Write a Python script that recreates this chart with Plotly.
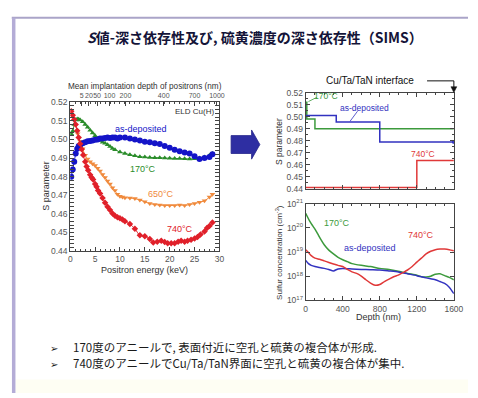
import plotly.graph_objects as go

W, H = 478, 398

# ---------------- data: left chart (S parameter vs positron energy) ----------------
asdep_E = [0.2, 0.5, 0.8, 1.1, 1.4, 1.7, 2.0, 2.5, 3.0, 3.5, 4.0, 4.5, 5.0, 5.5, 6.0, 6.5, 7.0, 7.5, 8.0, 8.5,
           9.0, 9.5, 10.0, 11.0, 12.0, 13.0, 14.0, 15.0, 16.0, 17.0, 18.0, 19.0, 20.0, 21.0, 22.0, 23.0, 24.0,
           25.0, 26.0, 27.0, 28.0, 28.6]
asdep_S = [0.4800, 0.4838, 0.4880, 0.4924, 0.4950, 0.4965, 0.4970, 0.4980, 0.4985, 0.4990, 0.4992, 0.4995,
           0.4998, 0.5000, 0.5005, 0.5005, 0.5008, 0.5010, 0.5008, 0.5010, 0.5010, 0.5005, 0.5010, 0.5010,
           0.5005, 0.5000, 0.4995, 0.4988, 0.4985, 0.4980, 0.4975, 0.4965, 0.4955, 0.4945, 0.4937, 0.4930,
           0.4925, 0.4910, 0.4895, 0.4900, 0.4905, 0.4920]

a170_E = [0.2, 0.5, 0.8, 1.1, 1.4, 1.7, 2.0, 2.5, 3.0, 3.5, 4.0, 4.5, 5.0, 5.5, 6.0, 6.5, 7.0, 7.5, 8.0, 8.5,
          9.0, 10.0, 11.0, 12.0, 13.0, 14.0, 15.0, 16.0, 17.0, 18.0, 19.0, 20.0, 21.0, 22.0, 23.0, 24.0, 25.0,
          26.0, 27.0, 28.0, 28.6]
a170_S = [0.5030, 0.5045, 0.5080, 0.5105, 0.5110, 0.5108, 0.5105, 0.5095, 0.5080, 0.5065, 0.5050, 0.5035,
          0.5020, 0.5005, 0.4995, 0.4985, 0.4980, 0.4972, 0.4962, 0.4952, 0.4945, 0.4932, 0.4925, 0.4918,
          0.4912, 0.4907, 0.4905, 0.4903, 0.4902, 0.4902, 0.4900, 0.4899, 0.4898, 0.4897, 0.4896, 0.4895,
          0.4896, 0.4900, 0.4905, 0.4915, 0.4924]

a650_E = [1.5, 2.0, 2.5, 3.0, 3.5, 4.0, 4.5, 5.0, 5.5, 6.0, 6.5, 7.0, 7.5, 8.0, 8.5, 9.0, 9.5, 10.0, 10.5, 11.0,
          12.0, 13.0, 14.0, 15.0, 16.0, 17.0, 18.0, 19.0, 20.0, 21.0, 22.0, 23.0, 24.0, 25.0, 26.0, 27.0,
          28.0, 28.6]
a650_S = [0.5030, 0.4990, 0.4950, 0.4915, 0.4895, 0.4880, 0.4870, 0.4860, 0.4845, 0.4830, 0.4812, 0.4795,
          0.4776, 0.4760, 0.4740, 0.4725, 0.4705, 0.4695, 0.4690, 0.4687, 0.4685, 0.4682, 0.4675, 0.4665,
          0.4655, 0.4650, 0.4647, 0.4645, 0.4645, 0.4645, 0.4648, 0.4645, 0.4650, 0.4655, 0.4662, 0.4670,
          0.4690, 0.4705]

a740_E = [0.2, 0.5, 0.8, 1.1, 1.4, 1.7, 2.0, 2.3, 2.6, 3.0, 3.3, 3.6, 4.0, 4.3, 4.6, 5.0, 5.3, 5.6, 6.0, 6.5,
          7.0, 7.5, 8.0, 8.5, 9.0, 9.5, 10.0, 10.5, 11.0, 12.0, 13.0, 14.0, 15.0, 16.0, 16.7, 17.5, 18.3,
          19.0, 19.6, 20.3, 21.0, 21.7, 22.3, 23.0, 23.6, 24.3, 25.0, 25.6, 26.2, 27.0, 27.5, 28.0, 28.6]
a740_S = [0.5151, 0.5130, 0.5107, 0.5080, 0.5047, 0.5010, 0.4977, 0.4947, 0.4916, 0.4880, 0.4855, 0.4835,
          0.4810, 0.4795, 0.4785, 0.4760, 0.4745, 0.4725, 0.4710, 0.4685, 0.4660, 0.4638, 0.4620, 0.4602,
          0.4590, 0.4582, 0.4576, 0.4570, 0.4560, 0.4545, 0.4520, 0.4485, 0.4480, 0.4465, 0.4446, 0.4450,
          0.4455, 0.4448, 0.4442, 0.4442, 0.4442, 0.4450, 0.4455, 0.4450, 0.4455, 0.4460, 0.4467, 0.4475,
          0.4489, 0.4505, 0.4524, 0.4535, 0.4553]

# top axis: mean implantation depth labels (nm) and the positron energy (keV) where each label sits
depth_tick_labels = ["5", "20", "50", "100", "200", "400", "700", "1000"]
depth_tick_energy = [2.3, 3.75, 5.4, 7.9, 11.1, 18.8, 25.0, 29.5]

# ---------------- data: right top (S parameter step profiles vs depth) ----------------
step_asdep_D = [0, 330, 800, 1600]
step_asdep_S = [0.5010, 0.4955, 0.4790, 0.4790]
step_170_D = [0, 12, 100, 1600]
step_170_S = [0.5120, 0.4980, 0.4900, 0.4900]
step_740_D = [0, 1200, 1600]
step_740_S = [0.4410, 0.4635, 0.4635]

# ---------------- data: right bottom (SIMS sulfur concentration vs depth) ----------------
sims_170_D = [0, 20, 40, 60, 80, 100, 130, 160, 200, 250, 300, 350, 400, 450, 500, 600, 700, 800, 900, 1000,
              1100, 1200, 1250, 1300, 1350, 1400, 1450, 1500, 1550, 1600]
sims_170_C = [4.0e20, 2.8e20, 2.0e20, 1.5e20, 1.15e20, 8.9e19, 5.6e19, 3.5e19, 2.0e19, 1.2e19, 8.3e18,
              6.0e18, 4.8e18, 4.0e18, 3.3e18, 2.8e18, 2.5e18, 2.1e18, 1.9e18, 1.6e18, 1.3e18, 1.1e18,
              9.5e17, 9.3e17, 1.0e18, 1.2e18, 1.25e18, 1.05e18, 8.9e17, 7.1e17]
sims_asdep_D = [0, 30, 60, 100, 150, 200, 250, 300, 350, 400, 500, 600, 700, 800, 900, 1000, 1100, 1200,
                1300, 1400, 1450, 1500, 1550, 1600]
sims_asdep_C = [4.5e18, 3.3e18, 2.8e18, 2.5e18, 2.3e18, 2.1e18, 1.9e18, 1.65e18, 2.0e18, 2.1e18, 2.0e18,
                1.9e18, 1.85e18, 1.8e18, 1.65e18, 1.5e18, 1.25e18, 1.05e18, 8.5e17, 7.1e17, 6.0e17,
                5.0e17, 3.5e17, 1.9e17]
sims_740_D = [0, 30, 60, 100, 150, 200, 250, 300, 350, 400, 450, 500, 550, 600, 650, 700, 750, 800, 850,
              900, 950, 1000, 1050, 1100, 1150, 1200, 1250, 1300, 1350, 1400, 1450, 1500, 1550, 1600]
sims_740_C = [1.25e19, 9.5e18, 7.1e18, 5.6e18, 5.0e18, 4.3e18, 3.7e18, 3.2e18, 2.8e18, 2.5e18, 1.9e18,
              1.5e18, 1.3e18, 1.0e18, 7.1e17, 5.2e17, 4.2e17, 4.5e17, 6.0e17, 7.6e17, 9.5e17, 1.1e18,
              1.4e18, 1.8e18, 2.5e18, 3.8e18, 5.6e18, 8.3e18, 1.07e19, 1.25e19, 1.32e19, 1.32e19,
              1.25e19, 1.12e19]
sims_tickvals = [1e17, 1e18, 1e19, 1e20, 1e21]
sims_ticktext = ["10<sup>17</sup>", "10<sup>18</sup>", "10<sup>19</sup>", "10<sup>20</sup>", "10<sup>21</sup>"]

bullet_lines = ["170度のアニールで, 表面付近に空孔と硫黄の複合体が形成.",
                "740度のアニールでCu/Ta/TaN界面に空孔と硫黄の複合体が集中."]

# ---------------- styling ----------------
BLUE, GREEN, ORANGE, RED = "#1414c8", "#2a8c2a", "#f08a3c", "#e0202a"
RBLUE, RGREEN, RRED = "#3232c0", "#3c9a3c", "#e03838"
FONT = "Liberation Sans, Arial, sans-serif"
JFONT = "Noto Sans CJK JP, DejaVu Sans, sans-serif"
TICKC = "#555555"
AXC = "#444444"


def px(x):
    return x / W


def py(y):
    return 1 - y / H


fig = go.Figure()


def sdata(x, y, color, symbol, size, name):
    fig.add_trace(go.Scatter(x=x, y=y, mode="lines+markers", name=name,
                             line=dict(color=color, width=1, shape="spline", smoothing=1.0),
                             marker=dict(color=color, symbol=symbol, size=size, line=dict(width=0)),
                             xaxis="x", yaxis="y", showlegend=False))


sdata(a650_E, a650_S, ORANGE, "triangle-down", 5, "650°C")
sdata(a170_E, a170_S, GREEN, "triangle-up", 5, "170°C")
sdata(asdep_E, asdep_S, BLUE, "circle", 6, "as-deposited")
sdata(a740_E, a740_S, RED, "diamond", 5, "740°C")

# register the top (depth) axis; no visible marks
fig.add_trace(go.Scatter(x=depth_tick_energy, y=[None] * len(depth_tick_energy), mode="markers",
                         xaxis="x2", yaxis="y", showlegend=False, hoverinfo="skip"))

for D, S, c in [(step_170_D, step_170_S, RGREEN), (step_asdep_D, step_asdep_S, RBLUE),
                (step_740_D, step_740_S, RRED)]:
    fig.add_trace(go.Scatter(x=D, y=S, mode="lines", line=dict(color=c, width=1.5, shape="hv"),
                             xaxis="x3", yaxis="y3", showlegend=False))
# end marker of the as-deposited profile
fig.add_trace(go.Scatter(x=step_asdep_D[-1:], y=step_asdep_S[-1:], mode="markers",
                         marker=dict(color=RBLUE, size=4), xaxis="x3", yaxis="y3", showlegend=False))

for D, C, c in [(sims_170_D, sims_170_C, RGREEN), (sims_asdep_D, sims_asdep_C, RBLUE),
                (sims_740_D, sims_740_C, RRED)]:
    fig.add_trace(go.Scatter(x=D, y=C, mode="lines", line=dict(color=c, width=1.5, shape="spline", smoothing=0.6),
                             xaxis="x4", yaxis="y4", showlegend=False))

tickfont = dict(family=FONT, size=8.5, color=TICKC)
common = dict(showline=True, linecolor=AXC, linewidth=1, ticks="inside", ticklen=4, tickcolor=AXC,
              showgrid=False, zeroline=False, tickfont=tickfont, tickangle=0)

Lx = [px(70), px(223)]
Ly = [py(252), py(99)]
Rx = [px(311.5), px(463.5)]
RTy = [py(188), py(89)]
RBy = [py(302.7), py(203.3)]

top_common = dict(common)
top_common["tickfont"] = dict(family=FONT, size=7, color=TICKC)

fig.update_layout(
    width=W, height=H, margin=dict(l=0, r=0, t=0, b=0),
    paper_bgcolor="white", plot_bgcolor="rgba(0,0,0,0)",
    xaxis=dict(domain=Lx, anchor="y", range=[0, 30], dtick=5, mirror=False,
               minor=dict(ticks="inside", ticklen=2, dtick=1, tickcolor=AXC), **common),
    xaxis2=dict(overlaying="x", anchor="y", side="top", range=[0, 30], tickmode="array",
                tickvals=depth_tick_energy, ticktext=depth_tick_labels,
                minor=dict(ticks="inside", ticklen=2, dtick=1, tickcolor=AXC), **top_common),
    yaxis=dict(domain=Ly, anchor="x", range=[0.44, 0.52], dtick=0.01, tickformat=".2f", mirror="allticks",
               minor=dict(ticks="inside", ticklen=2, dtick=0.002, tickcolor=AXC), **common),
    xaxis3=dict(domain=Rx, anchor="y3", range=[0, 1600], dtick=400, showticklabels=False, mirror="allticks",
                minor=dict(ticks="inside", ticklen=2, dtick=100, tickcolor=AXC), **common),
    yaxis3=dict(domain=RTy, anchor="x3", range=[0.44, 0.52], dtick=0.01, tickformat=".2f", mirror="allticks",
                minor=dict(ticks="inside", ticklen=2, dtick=0.005, tickcolor=AXC), **common),
    xaxis4=dict(domain=Rx, anchor="y4", range=[0, 1600], dtick=400, mirror="allticks",
                minor=dict(ticks="inside", ticklen=2, dtick=100, tickcolor=AXC), **common),
    yaxis4=dict(domain=RBy, anchor="x4", type="log", range=[17, 21], tickmode="array",
                tickvals=sims_tickvals, ticktext=sims_ticktext, mirror="allticks", **common),
)

ann = []


def txt(x, y, s, size=9, color="#333333", xref="paper", yref="paper", angle=0, family=FONT, xanchor="center",
        align="center"):
    ann.append(dict(x=x, y=y, xref=xref, yref=yref, text=s, showarrow=False, textangle=angle, align=align,
                    font=dict(family=family, size=size, color=color), xanchor=xanchor, yanchor="middle"))


# title
txt(px(260), py(32), "<b><i>S</i>値-深さ依存性及び, 硫黄濃度の深さ依存性（SIMS）</b>", size=14, color="#141438",
    family=JFONT)
# left chart texts
txt(px(146.5), py(83), "Mean implantation depth of positrons (nm)", size=8.2)
txt(px(146), py(272), "Positron energy (keV)", size=9)
txt(px(45), py(185), "S parameter", size=9, angle=-90)
txt(24.9, 0.5148, "ELD Cu(H)", size=8, xref="x", yref="y")
txt(14.3, 0.5054, "as-deposited", size=9, color=BLUE, xref="x", yref="y")
txt(14.7, 0.4839, "170°C", size=9, color=GREEN, xref="x", yref="y")
txt(18.2, 0.4708, "650°C", size=9, color=ORANGE, xref="x", yref="y")
txt(22.0, 0.4520, "740°C", size=9, color=RED, xref="x", yref="y")
# right chart texts
txt(px(377), py(77), "Cu/Ta/TaN interface", size=10, color="#111111")
txt(px(284), py(139), "S parameter", size=8.5, angle=-90)
txt(px(284), py(253), "Sulfur concentration (cm<sup>-3</sup>)", size=8, angle=-90)
txt(px(386), py(320), "Depth (nm)", size=9)
txt(222, 0.5168, "170°C", size=8.5, color=RGREEN, xref="x3", yref="y3")
txt(640, 0.5070, "as-deposited", size=8.5, color=RBLUE, xref="x3", yref="y3")
txt(1272, 0.4690, "740°C", size=8.5, color=RRED, xref="x3", yref="y3")
# log axis: annotation positions are given as log10 values
txt(335, 20.2, "170°C", size=9, color=RGREEN, xref="x4", yref="y4")
txt(690, 19.15, "as-deposited", size=9, color=RBLUE, xref="x4", yref="y4")
txt(1245, 19.72, "740°C", size=9, color=RRED, xref="x4", yref="y4")

# bullets
for line, yy in zip(bullet_lines, [350.8, 367.6]):
    txt(px(53.5), py(yy), "➢", size=10, color="#1a1a1a", family=JFONT)
    txt(px(71), py(yy), line, size=11.5, color="#1a1a1a", family=JFONT, xanchor="left", align="left")

fig.update_layout(annotations=ann)

# slide frame, leader lines, interface arrow and block arrow
shapes = [
    dict(type="rect", xref="paper", yref="paper", x0=px(14), x1=1, y0=0, y1=py(384), fillcolor="#fefef3",
         line=dict(width=0), layer="below"),
    dict(type="line", xref="paper", yref="paper", x0=px(10), x1=1, y0=py(12), y1=py(12),
         line=dict(color="#aaa4c8", width=2)),
    dict(type="line", xref="paper", yref="paper", x0=px(12), x1=px(12), y0=0, y1=py(12),
         line=dict(color="#b4acd6", width=3.5)),
    # interface pointer
    dict(type="path", xref="paper", yref="paper",
         path=f"M {px(436)},{py(77)} L {px(463.5)},{py(77)} L {px(463.5)},{py(84)}",
         line=dict(color="#111111", width=1)),
    dict(type="path", xref="paper", yref="paper",
         path=f"M {px(460.5)},{py(83)} L {px(466.5)},{py(83)} L {px(463.5)},{py(89)} Z",
         fillcolor="#111111", line=dict(color="#111111", width=0.5)),
    # leader lines (top right)
    dict(type="line", xref="x3", yref="y3", x0=30, y0=0.5125, x1=120, y1=0.5160,
         line=dict(color=RGREEN, width=0.8)),
    dict(type="line", xref="x3", yref="y3", x0=480, y0=0.4962, x1=560, y1=0.5045,
         line=dict(color=RBLUE, width=0.8)),
    # leader line (bottom right, log axis in log10 units)
    dict(type="line", xref="x4", yref="y4", x0=350, y0=18.32, x1=470, y1=18.95,
         line=dict(color=RBLUE, width=0.8)),
]
ax_pts = [(235, 133.3), (256, 133.3), (256, 127.5), (264.5, 142.5), (256, 157.5), (256, 151.7), (235, 151.7)]
path = "M " + " L ".join(f"{px(a):.5f},{py(b):.5f}" for a, b in ax_pts) + " Z"
shapes.append(dict(type="path", xref="paper", yref="paper", path=path, fillcolor="#2e2ea2",
                   line=dict(color="#24248a", width=0.8)))
fig.update_layout(shapes=shapes)

fig.write_html("out.html", config={"displayModeBar": False},
               post_script="document.body.style.margin='0';document.body.style.padding='0';")
